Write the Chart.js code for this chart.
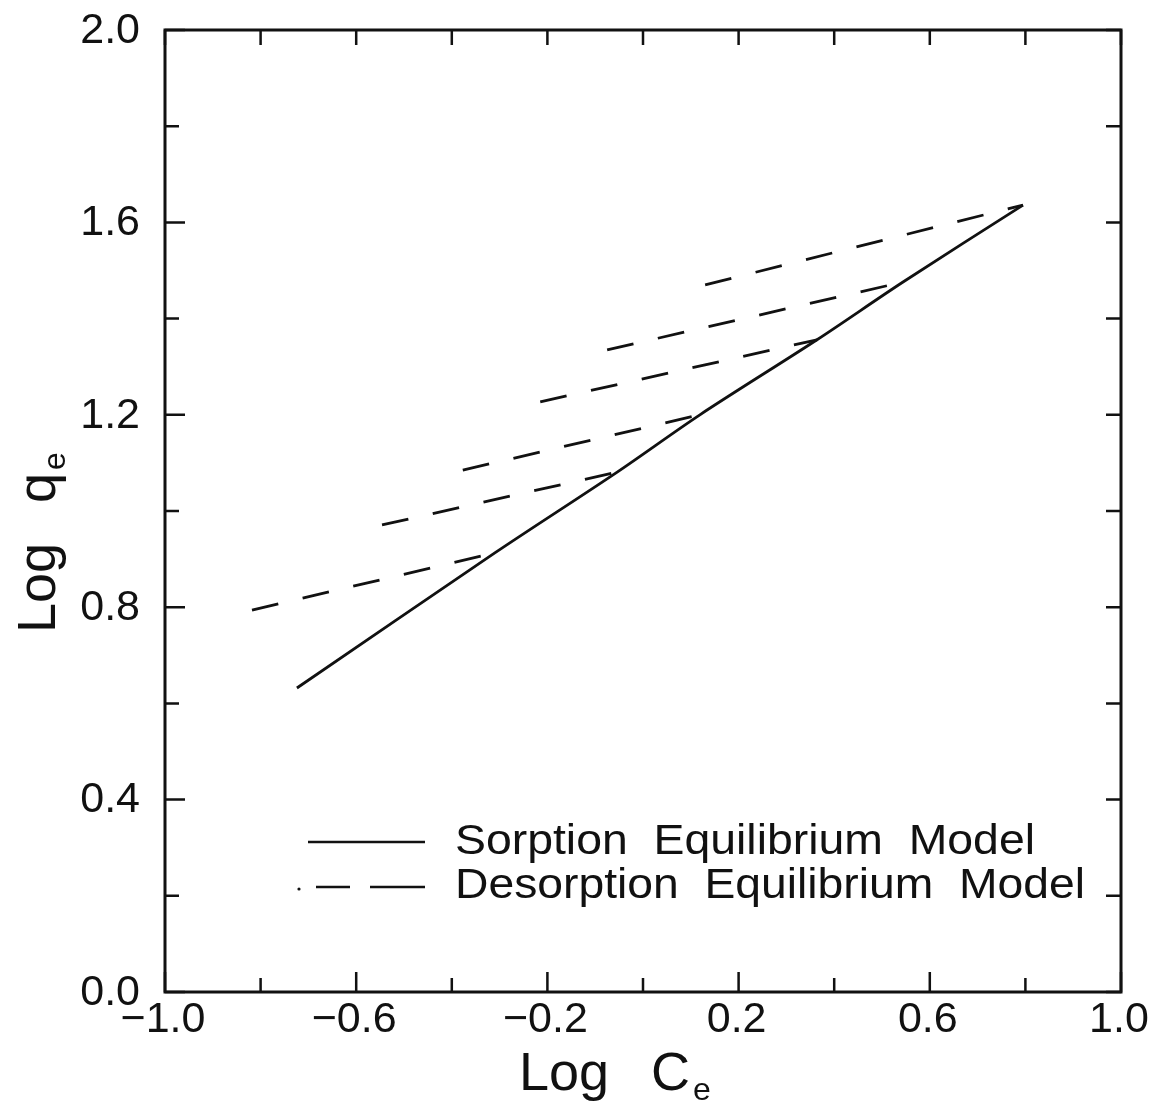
<!DOCTYPE html>
<html>
<head>
<meta charset="utf-8">
<script src="https://cdn.jsdelivr.net/npm/chart.js@4.4.1/dist/chart.umd.min.js"></script>
<style>
  html, body { margin: 0; padding: 0; background: #fff; }
  #wrap { width: 1151px; height: 1105px; }
</style>
</head>
<body>
<div id="wrap"><canvas id="isoChart" width="1151" height="1105"></canvas></div>
<script>
// DATA - log C_e vs log q_e
const sorptionLogC = [-0.724, -0.310, -0.054, 0.119, 0.364, 0.544, 0.795];
const sorptionLogQ = [0.632, 0.913, 1.081, 1.200, 1.356, 1.476, 1.636];

// each desorption branch runs from its start point back to the sorption curve
const desorptionStartLogC = [-0.818, -0.546, -0.377, -0.215, -0.075, 0.130];
const desorptionStartLogQ = [0.794, 0.971, 1.085, 1.227, 1.335, 1.470];
const desorptionEndLogC = [-0.310, -0.054, 0.119, 0.364, 0.544, 0.795];
const desorptionEndLogQ = [0.913, 1.081, 1.200, 1.356, 1.476, 1.636];

const xTicks = [-1.0, -0.8, -0.6, -0.4, -0.2, 0.0, 0.2, 0.4, 0.6, 0.8, 1.0];
const xTickLabels = ['\u22121.0', '', '\u22120.6', '', '\u22120.2', '', '0.2', '', '0.6', '', '1.0'];
const yTicks = [0.0, 0.2, 0.4, 0.6, 0.8, 1.0, 1.2, 1.4, 1.6, 1.8, 2.0];
const yTickLabels = ['0.0', '', '0.4', '', '0.8', '', '1.2', '', '1.6', '', '2.0'];

const seriesNames = ['Sorption Equilibrium Model', 'Desorption Equilibrium Model'];

const FONT = '"Liberation Sans", Arial, sans-serif';

const datasets = [{
    label: seriesNames[0],
    data: sorptionLogC.map((x, i) => ({ x: x, y: sorptionLogQ[i] })),
    borderColor: '#111',
    borderWidth: 2.8,
    showLine: true,
    pointRadius: 0,
    tension: 0.3
}];
desorptionStartLogC.forEach((x0, i) => {
    datasets.push({
        label: seriesNames[1],
        data: [
            { x: x0, y: desorptionStartLogQ[i] },
            { x: desorptionEndLogC[i], y: desorptionEndLogQ[i] }
        ],
        borderColor: '#111',
        borderWidth: 2.8,
        borderDash: [27, 25],
        showLine: true,
        pointRadius: 0
    });
});

// frame, inward ticks, labels, titles and legend
const framePlugin = {
    id: 'frame',
    afterDraw(chart) {
        const c = chart.ctx;
        const a = chart.chartArea;
        const sx = chart.scales.x, sy = chart.scales.y;
        c.save();
        c.strokeStyle = '#111';
        c.fillStyle = '#111';
        c.lineWidth = 3;
        c.strokeRect(a.left, a.top, a.right - a.left, a.bottom - a.top);

        c.lineWidth = 2.5;
        xTicks.forEach((v, i) => {
            const px = sx.getPixelForValue(v);
            const len = xTickLabels[i] ? 20 : 14;
            c.beginPath();
            c.moveTo(px, a.bottom); c.lineTo(px, a.bottom - len);
            c.moveTo(px, a.top); c.lineTo(px, a.top + 15);
            c.stroke();
        });
        yTicks.forEach((v, i) => {
            const py = sy.getPixelForValue(v);
            const len = yTickLabels[i] ? 20 : 14;
            c.beginPath();
            c.moveTo(a.left, py); c.lineTo(a.left + len, py);
            c.moveTo(a.right, py); c.lineTo(a.right - 15, py);
            c.stroke();
        });

        // tick labels
        c.font = '43px ' + FONT;
        c.textAlign = 'center';
        c.textBaseline = 'alphabetic';
        xTicks.forEach((v, i) => {
            if (!xTickLabels[i]) return;
            c.fillText(xTickLabels[i], sx.getPixelForValue(v) - 2, 1032);
        });
        c.textAlign = 'right';
        c.textBaseline = 'middle';
        yTicks.forEach((v, i) => {
            if (!yTickLabels[i]) return;
            c.fillText(yTickLabels[i], 140, sy.getPixelForValue(v) + 1);
        });

        // axis titles
        c.textAlign = 'left';
        c.textBaseline = 'alphabetic';
        c.font = '54px ' + FONT;
        c.fillText('Log', 519, 1090);
        c.fillText('C', 651, 1090);
        c.font = '32px ' + FONT;
        c.fillText('e', 693, 1100);

        c.save();
        c.translate(55, 633);
        c.rotate(-Math.PI / 2);
        c.font = '54px ' + FONT;
        c.fillText('Log', 0, 0);
        c.fillText('q', 130, 0);
        c.font = '32px ' + FONT;
        c.fillText('e', 163, 10);
        c.restore();

        // legend
        c.lineWidth = 2.6;
        c.beginPath();
        c.moveTo(308, 842); c.lineTo(425, 842);
        c.stroke();
        c.beginPath();
        c.moveTo(316, 887); c.lineTo(350, 887);
        c.moveTo(370, 887); c.lineTo(425, 887);
        c.stroke();
        c.beginPath();
        c.arc(299, 889, 1.6, 0, Math.PI * 2);
        c.fill();

        c.font = '42px ' + FONT;
        c.textBaseline = 'middle';
        const drawFit = (txt, x, y, w) => {
            const m = c.measureText(txt).width;
            c.save();
            c.translate(x, y);
            c.scale(w / m, 1);
            c.fillText(txt, 0, 0);
            c.restore();
        };
        drawFit(seriesNames[0].split(' ').join('  '), 455, 842, 580);
        drawFit(seriesNames[1].split(' ').join('  '), 455, 886, 630);
        c.restore();
    }
};

const ctx = document.getElementById('isoChart').getContext('2d');
new Chart(ctx, {
    type: 'scatter',
    data: { datasets: datasets },
    options: {
        responsive: false,
        animation: false,
        layout: { padding: { left: 165, top: 30, right: 30, bottom: 113 } },
        scales: {
            x: { type: 'linear', min: -1, max: 1, display: false },
            y: { type: 'linear', min: 0, max: 2, display: false }
        },
        plugins: {
            legend: { display: false },
            tooltip: { enabled: false }
        }
    },
    plugins: [framePlugin]
});
</script>
</body>
</html>
